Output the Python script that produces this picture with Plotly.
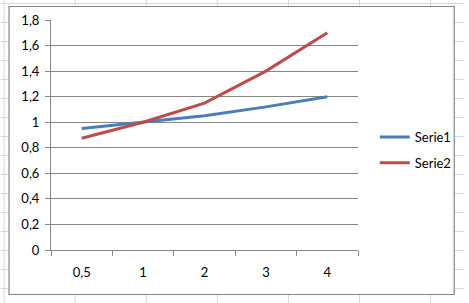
import plotly.graph_objects as go

categories = ["0,5", "1", "2", "3", "4"]
serie1 = [0.95, 1.0, 1.05, 1.12, 1.2]
serie2 = [0.875, 1.0, 1.15, 1.4, 1.7]
series_names = ["Serie1", "Serie2"]
series_colors = ["#4A7EBB", "#BE4B48"]
y_ticks = [0, 0.2, 0.4, 0.6, 0.8, 1.0, 1.2, 1.4, 1.6, 1.8]
y_tick_labels = ["0", "0,2", "0,4", "0,6", "0,8", "1", "1,2", "1,4", "1,6", "1,8"]

W, H = 469, 303
L, R, T, B = 51, 107, 20, 53
PW, PH = W - L - R, H - T - B

def px_x(px):
    return (px - L) / PW

def px_y(py):
    return (H - B - py) / PH

fig = go.Figure()
for name, vals, col in zip(series_names, [serie1, serie2], series_colors):
    fig.add_trace(go.Scatter(x=categories, y=vals, mode="lines", name=name,
                             legendgroup=name,
                             line=dict(color=col, width=3)))

shapes = []
grid_col = "#D0D7E5"
# spreadsheet cell grid (background decoration)
for gx in range(3, W, 72):
    shapes.append(dict(type="line", xref="paper", yref="paper",
                       x0=px_x(gx + 0.5), x1=px_x(gx + 0.5), y0=px_y(0), y1=px_y(H),
                       line=dict(color=grid_col, width=1), layer="below"))
for gy in range(3, H, 19):
    shapes.append(dict(type="line", xref="paper", yref="paper",
                       x0=px_x(0), x1=px_x(W), y0=px_y(gy + 0.5), y1=px_y(gy + 0.5),
                       line=dict(color=grid_col, width=1), layer="below"))
# chart area box
shapes.append(dict(type="rect", xref="paper", yref="paper",
                   x0=px_x(8.5), x1=px_x(459.5), y0=px_y(294.5), y1=px_y(6.5),
                   fillcolor="white", line=dict(color="#868686", width=1.2),
                   layer="below"))

font_family = "Lato, Open Sans, sans-serif"
fig.update_layout(
    width=W, height=H,
    margin=dict(l=L, r=R, t=T, b=B, pad=0),
    paper_bgcolor="white",
    plot_bgcolor="rgba(0,0,0,0)",
    font=dict(family=font_family, size=13, color="#000000"),
    shapes=shapes,
    showlegend=True,
    legend=dict(x=px_x(379), y=px_y(150), xanchor="left", yanchor="middle",
                bgcolor="rgba(0,0,0,0)", tracegroupgap=6,
                font=dict(size=13, family=font_family)),
    xaxis=dict(type="category", range=[-0.5, 4.5], showgrid=False,
               showline=True, linecolor="#868686", linewidth=1,
               ticks="outside", tickson="boundaries", ticklen=5,
               tickcolor="#868686", tickwidth=1,
               ticklabelstandoff=10, zeroline=False),
    yaxis=dict(range=[0, 1.8], tickvals=y_ticks, ticktext=y_tick_labels,
               showgrid=True, gridcolor="#868686", gridwidth=1,
               showline=True, linecolor="#868686", linewidth=1,
               ticks="outside", ticklen=5, tickcolor="#868686", tickwidth=1,
               ticklabelstandoff=3, zeroline=False),
)

fig.write_html("out.html")
